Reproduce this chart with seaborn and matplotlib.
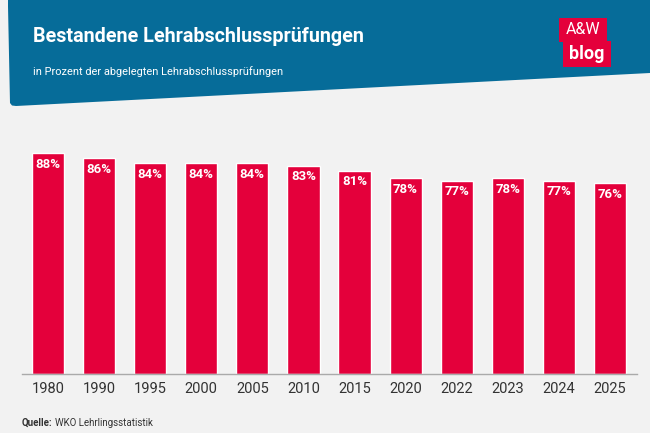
import matplotlib
matplotlib.use("Agg")
import matplotlib.pyplot as plt
from matplotlib.patches import Polygon, Rectangle
import seaborn as sns
import pandas as pd

# data
years = ["1980", "1990", "1995", "2000", "2005", "2010", "2015",
         "2020", "2022", "2023", "2024", "2025"]
shares = [88, 86, 84, 84, 84, 83, 81, 78, 77, 78, 77, 76]

title = "Bestandene Lehrabschlussprüfungen"
subtitle = "in Prozent der abgelegten Lehrabschlussprüfungen"
source = "WKO Lehrlingsstatistik"

red = "#e4003b"
blue = "#066c99"
bg = "#f2f2f2"

sns.set_style("white")
plt.rcParams["font.family"] = ["Roboto", "DejaVu Sans"]

W, H = 650, 433
fig = plt.figure(figsize=(6.5, 4.33), dpi=100, facecolor=bg)


def fx(x):
    return x / W


def fy(y):
    return 1 - y / H


# header banner (slanted bottom edge, rounded left corners)
pts = [(8, 0), (650, 0), (650, 73), (16, 106), (12, 105.5), (10, 103),
       (8, 6)]
fig.patches.append(Polygon([(fx(x), fy(y)) for x, y in pts], closed=True,
                           transform=fig.transFigure, facecolor=blue,
                           edgecolor="none", zorder=0))
fig.text(fx(33), fy(37), title, color="white", fontsize=14.2,
         fontweight="bold", va="center", ha="left")
fig.text(fx(33), fy(72), subtitle, color="white", fontsize=7.9,
         va="center", ha="left")

# logo
fig.patches.append(Rectangle((fx(559), fy(42)), fx(48), 24 / H,
                             transform=fig.transFigure, facecolor=red,
                             edgecolor="none", zorder=1))
fig.patches.append(Rectangle((fx(563), fy(67)), fx(48), 26 / H,
                             transform=fig.transFigure, facecolor=red,
                             edgecolor="none", zorder=1))
fig.text(fx(583), fy(30), "A&W", color="white", fontsize=11.5,
         ha="center", va="center", zorder=2)
fig.text(fx(587), fy(54), "blog", color="white", fontsize=13,
         fontweight="bold", ha="center", va="center", zorder=2)

# bars
df = pd.DataFrame({"year": years, "share": shares})
ax = fig.add_axes([fx(22), 1 - 374 / H, fx(637 - 22), (374 - 123) / H])
ax.set_facecolor(bg)
sns.barplot(data=df, x="year", y="share", color=red, width=0.63,
            saturation=1, ax=ax)
ax.set_xlim(-0.51, 11.53)
ax.set_ylim(0, 100)
for p, v in zip(ax.patches, shares):
    ax.text(p.get_x() + p.get_width() / 2, v - 1.8, f"{v}%",
            color="white", fontsize=9.5, fontweight="bold",
            ha="center", va="top")

for s in ["top", "left", "right"]:
    ax.spines[s].set_visible(False)
ax.spines["bottom"].set_color("#aaaaaa")
ax.spines["bottom"].set_linewidth(1)
ax.set_yticks([])
ax.set_xlabel("")
ax.set_ylabel("")
ax.tick_params(axis="x", length=0, pad=6, labelsize=10.5, labelcolor="#333333")

q = fig.text(fx(22), fy(423), "Quelle:", fontsize=7, fontweight="bold",
             color="#333333", va="center", ha="left")
fig.canvas.draw()
bb = q.get_window_extent()
fig.text((bb.x1 + 2) / W, fy(423), source, fontsize=7, color="#333333",
         va="center", ha="left")

fig.savefig("out.png", dpi=100, facecolor=bg)
